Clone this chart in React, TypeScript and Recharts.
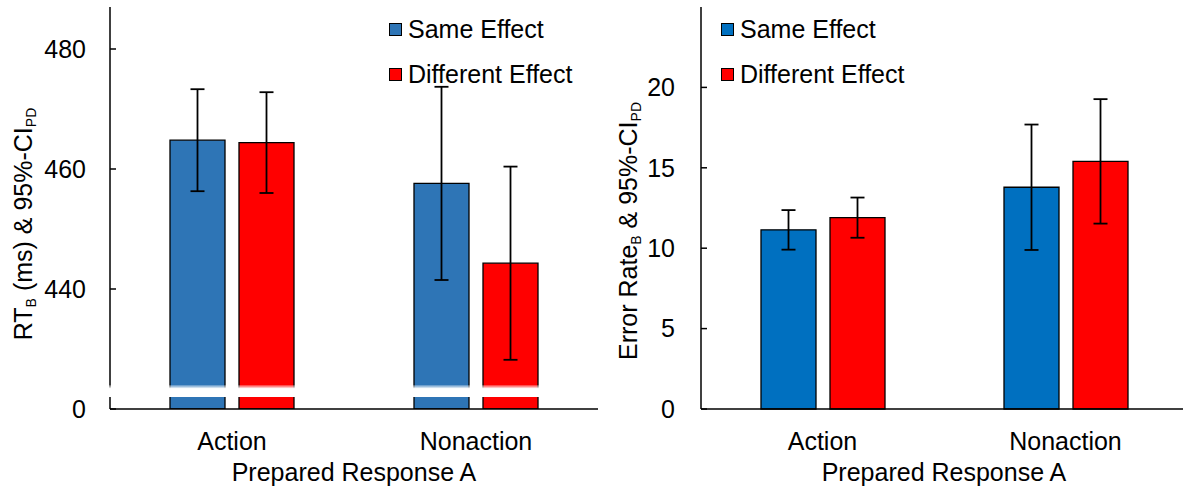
import { Bar, BarChart, ErrorBar, Legend, ReferenceArea, XAxis, YAxis } from "recharts";

const categories = ["Action", "Nonaction"];
const seriesNames = ["Same Effect", "Different Effect"];

// left panel: RT_B (ms), broken axis starting at "0"
const rtSame = [464.8, 457.6];
const rtSameCi = [8.5, 16.1];
const rtDiff = [464.4, 444.3];
const rtDiffCi = [8.4, 16.1];
const rtTicks = [420, 440, 460, 480];
const rtTickLabels = ["0", "440", "460", "480"];
const rtDomain = [420, 487];
const rtBreak = [422, 424];

// right panel: error rate (%)
const erSame = [11.14, 13.79];
const erSameCi = [1.23, 3.9];
const erDiff = [11.9, 15.4];
const erDiffCi = [1.25, 3.87];
const erTicks = [0, 5, 10, 15, 20];
const erDomain = [0, 25];

const LEFT_BLUE = "#2E75B6";
const RIGHT_BLUE = "#0070C0";
const RED = "#FF0000";
const FONT = "'Liberation Sans', Arial, sans-serif";
const FS = 25;

const rtData = categories.map((name, i) => ({
  name,
  same: rtSame[i],
  sameCi: rtSameCi[i],
  diff: rtDiff[i],
  diffCi: rtDiffCi[i]
}));

const erData = categories.map((name, i) => ({
  name,
  same: erSame[i],
  sameCi: erSameCi[i],
  diff: erDiff[i],
  diffCi: erDiffCi[i]
}));

const lineProps = { stroke: "#000", strokeWidth: 1.5 };
const tickText = { fill: "#000", fontSize: FS, fontFamily: FONT };

function LegendBox(props: any) {
  const items = (props.payload || [])
    .slice()
    .sort((a: any, b: any) => seriesNames.indexOf(a.value) - seriesNames.indexOf(b.value));
  return (
    <div style={{ fontFamily: FONT, fontSize: FS, color: "#000" }}>
      {items.map((it: any, i: number) => (
        <div key={i} style={{ display: "flex", alignItems: "center", height: 45, whiteSpace: "nowrap" }}>
          <span
            style={{
              display: "inline-block",
              width: 13,
              height: 13,
              boxSizing: "border-box",
              border: "1.3px solid #000",
              background: it.color,
              marginRight: 6
            }}
          />
          <span>{it.value}</span>
        </div>
      ))}
    </div>
  );
}

function RotatedLabel({ x, y, main, sub1, mid, sub2 }: any) {
  return (
    <text
      x={x}
      y={y}
      transform={`rotate(-90 ${x} ${y})`}
      textAnchor="middle"
      fill="#000"
      fontSize={FS}
      fontFamily={FONT}
    >
      {main}
      <tspan dy={4} fontSize={14}>{sub1}</tspan>
      <tspan dy={-4}>{mid}</tspan>
      <tspan dy={4} fontSize={14}>{sub2}</tspan>
    </text>
  );
}

// left axis line drawn as the left edge of the full plot area
const axisEdgeShape = (p: any) => (
  <line x1={p.x} y1={p.y} x2={p.x} y2={p.y + p.height} stroke="#000" strokeWidth={1.5} />
);

const breakShape = (p: any) => (
  <rect x={p.x - 4} y={p.y} width={p.width} height={p.height} fill="url(#breakFade)" />
);

function RtChart() {
  return (
    <BarChart
      width={600}
      height={488}
      data={rtData}
      margin={{ top: 7, right: 2, left: 0, bottom: 0 }}
      barGap={14}
    >
      <defs>
        <linearGradient id="breakFade" x1="0" y1="0" x2="0" y2="1">
          <stop offset="0%" stopColor="#fff" stopOpacity={0.2} />
          <stop offset="30%" stopColor="#fff" stopOpacity={1} />
          <stop offset="100%" stopColor="#fff" stopOpacity={1} />
        </linearGradient>
      </defs>
      <XAxis
        dataKey="name"
        height={79}
        axisLine={lineProps}
        tickLine={false}
        tickSize={0}
        tickMargin={23}
        tick={tickText}
        label={{
          value: "Prepared Response A",
          position: "insideBottom",
          offset: 7,
          fill: "#000",
          fontSize: FS,
          fontFamily: FONT
        }}
      />
      <XAxis xAxisId="frame" dataKey="name" orientation="top" height={0} axisLine={lineProps} tick={false} tickLine={false} />
      <YAxis
        width={110}
        domain={rtDomain}
        ticks={rtTicks}
        interval={0}
        allowDataOverflow
        axisLine={false}
        tickLine={lineProps}
        tickSize={-6}
        tickMargin={30}
        tick={tickText}
        tickFormatter={(v: number) => rtTickLabels[rtTicks.indexOf(v)] ?? String(v)}
        label={{
          content: () => (
            <RotatedLabel x={32} y={224} main="RT" sub1="B" mid=" (ms) & 95%-CI" sub2="PD" />
          )
        }}
      />
      <YAxis yAxisId="frame" orientation="right" width={0} domain={rtDomain} axisLine={lineProps} tick={false} tickLine={false} />
      <Legend
        layout="vertical"
        align="center"
        verticalAlign="middle"
        wrapperStyle={{ left: 389, top: 6.5, width: "auto" }}
        content={LegendBox}
      />
      <Bar dataKey="same" name={seriesNames[0]} fill={LEFT_BLUE} stroke="#000" strokeWidth={1.3} barSize={55} isAnimationActive={false}>
        <ErrorBar dataKey="sameCi" width={7} stroke="#000" strokeWidth={1.8} direction="y" />
      </Bar>
      <Bar dataKey="diff" name={seriesNames[1]} fill={RED} stroke="#000" strokeWidth={1.3} barSize={55} isAnimationActive={false}>
        <ErrorBar dataKey="diffCi" width={7} stroke="#000" strokeWidth={1.8} direction="y" />
      </Bar>
      <ReferenceArea y1={rtDomain[0]} y2={rtDomain[1]} ifOverflow="visible" shape={axisEdgeShape} zIndex={1400} />
      <ReferenceArea y1={rtBreak[0]} y2={rtBreak[1]} ifOverflow="visible" shape={breakShape} zIndex={1500} />
    </BarChart>
  );
}

function ErChart() {
  return (
    <BarChart
      width={590}
      height={488}
      data={erData}
      margin={{ top: 7, right: 3, left: 0, bottom: 0 }}
      barGap={14}
    >
      <XAxis
        dataKey="name"
        height={79}
        axisLine={lineProps}
        tickLine={false}
        tickSize={0}
        tickMargin={23}
        tick={tickText}
        label={{
          value: "Prepared Response A",
          position: "insideBottom",
          offset: 7,
          fill: "#000",
          fontSize: FS,
          fontFamily: FONT
        }}
      />
      <XAxis xAxisId="frame" dataKey="name" orientation="top" height={0} axisLine={lineProps} tick={false} tickLine={false} />
      <YAxis
        width={101}
        domain={erDomain}
        ticks={erTicks}
        interval={0}
        axisLine={lineProps}
        tickLine={lineProps}
        tickSize={-6}
        tickMargin={32}
        tick={tickText}
        label={{
          content: () => (
            <RotatedLabel x={37} y={231} main="Error Rate" sub1="B" mid=" & 95%-CI" sub2="PD" />
          )
        }}
      />
      <Legend
        layout="vertical"
        align="center"
        verticalAlign="middle"
        wrapperStyle={{ left: 121, top: 6.5, width: "auto" }}
        content={LegendBox}
      />
      <Bar dataKey="same" name={seriesNames[0]} fill={RIGHT_BLUE} stroke="#000" strokeWidth={1.3} barSize={55} isAnimationActive={false}>
        <ErrorBar dataKey="sameCi" width={7} stroke="#000" strokeWidth={1.8} direction="y" />
      </Bar>
      <Bar dataKey="diff" name={seriesNames[1]} fill={RED} stroke="#000" strokeWidth={1.3} barSize={55} isAnimationActive={false}>
        <ErrorBar dataKey="diffCi" width={7} stroke="#000" strokeWidth={1.8} direction="y" />
      </Bar>
    </BarChart>
  );
}

export default function App() {
  return (
    <div
      style={{
        position: "absolute",
        left: 0,
        top: 0,
        width: 1183,
        height: 488,
        overflow: "hidden",
        background: "#fff"
      }}
    >
      <div style={{ position: "absolute", left: 0, top: 0 }}>
        <RtChart />
      </div>
      <div style={{ position: "absolute", left: 600, top: 0 }}>
        <ErChart />
      </div>
    </div>
  );
}
